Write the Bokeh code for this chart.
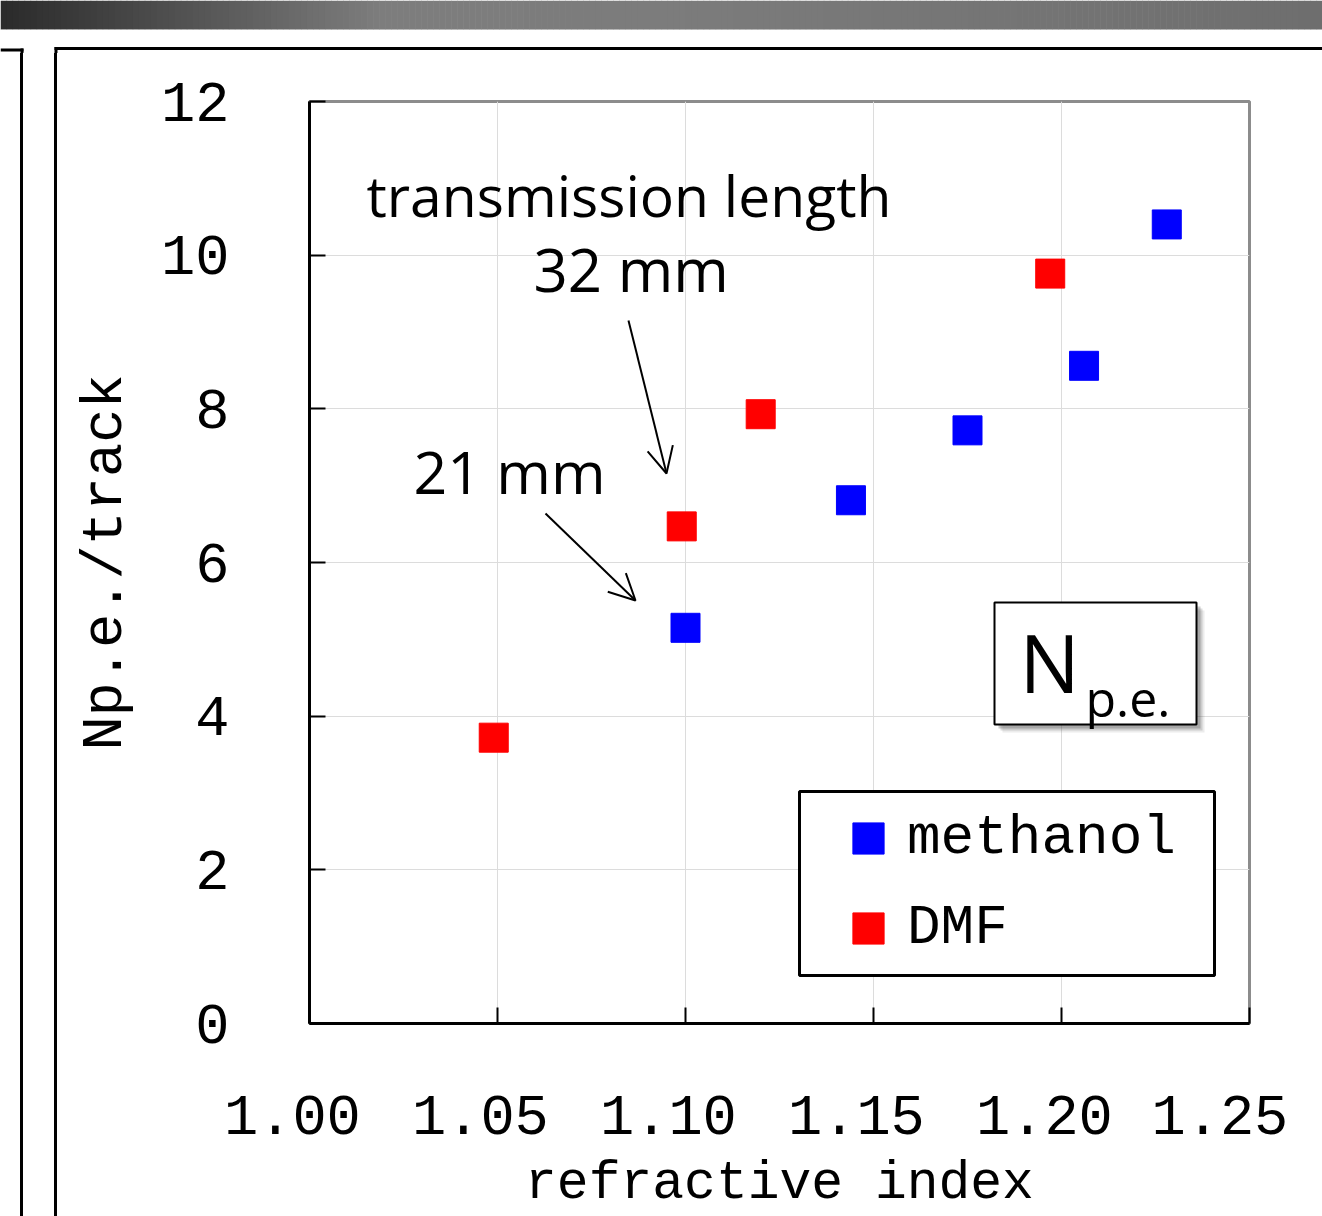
from bokeh.plotting import figure
from bokeh.layouts import column, row
from bokeh.models import (Range1d, FixedTicker, CustomJSTickFormatter, Label, Arrow, OpenHead,
                          BoxAnnotation, Legend, LegendItem, Div)
from bokeh.embed import file_html
from bokeh.resources import INLINE

# ---- data ----
methanol_n = [1.100, 1.144, 1.175, 1.206, 1.228]
methanol_npe = [5.15, 6.81, 7.72, 8.56, 10.40]
dmf_n = [1.049, 1.099, 1.120, 1.197]
dmf_npe = [3.72, 6.47, 7.93, 9.76]
x_ticks = [1.00, 1.05, 1.10, 1.15, 1.20, 1.25]
y_ticks = [0, 2, 4, 6, 8, 10, 12]

W, H = 1322, 1216
BAR_H, STRIP_H, LEFT_W = 30, 23, 60          # slide decoration pieces around the chart
TOP = BAR_H + STRIP_H                          # main figure origin on the page
FL, FR, FT, FB = 309, 1249, 101, 1023          # frame edges on the page
XMIN, XMAX, YMIN, YMAX = 1.00, 1.25, 0, 12


def dx(px):
    return XMIN + (px - FL) * (XMAX - XMIN) / (FR - FL)


def dy(py):
    return YMIN + (FB - py) * (YMAX - YMIN) / (FB - FT)


def deco_fig(w, h):
    f = figure(width=w, height=h, x_range=Range1d(0, w), y_range=Range1d(h, 0),
               output_backend="svg", toolbar_location=None,
               x_axis_location=None, y_axis_location=None, min_border=0)
    f.outline_line_color = None
    f.grid.visible = False
    f.background_fill_color = "white"
    f.border_fill_color = "white"
    return f


# ---- slide title bar (grey gradient) ----
bar = deco_fig(W, BAR_H)
stops = [(0, (42, 42, 42)), (380, (125, 125, 125)), (660, (124, 124, 124)), (W, (110, 110, 110))]
nseg = 220
lefts, rights, cols = [], [], []
for i in range(nseg):
    x0 = W * i / nseg
    x1 = W * (i + 1) / nseg
    xm = (x0 + x1) / 2
    c = stops[-1][1]
    for (a, ca), (b, cb) in zip(stops[:-1], stops[1:]):
        if a <= xm <= b:
            t = (xm - a) / (b - a)
            c = tuple(int(round(ca[k] + (cb[k] - ca[k]) * t)) for k in range(3))
            break
    lefts.append(x0)
    rights.append(x1 + 0.6)
    cols.append("#%02x%02x%02x" % c)
bar.quad(left=lefts, right=rights, top=[0] * nseg, bottom=[29] * nseg, color=cols, line_alpha=0)
bar.quad(left=[0], right=[W], top=[29], bottom=[30], color="#b4b4b4", line_alpha=0)

# ---- strip with the top edges of the slide boxes ----
strip = deco_fig(W, STRIP_H)
strip.quad(left=[0, 20, 54, 54], right=[23, 23, W, 57],
           top=[18, 18, 16.5, 16.5], bottom=[21, STRIP_H, 19.5, STRIP_H],
           color="black", line_alpha=0)

# ---- left strip with the vertical edges of the slide boxes ----
left = Div(width=LEFT_W, height=H - TOP, margin=0,
           text=('<div style="box-sizing:border-box;margin:0 0 0 20px;padding:0;width:37px;height:%dpx;'
                 'border-left:3px solid #000;border-right:3px solid #000;"></div>') % (H - TOP))

# ---- main chart ----
p = figure(width=W - LEFT_W, height=H - TOP, output_backend="svg", toolbar_location=None,
           x_range=Range1d(XMIN, XMAX), y_range=Range1d(YMIN, YMAX),
           min_border_left=FL - LEFT_W, min_border_right=W - FR,
           min_border_top=FT - TOP, min_border_bottom=H - FB)
p.background_fill_color = "white"
p.border_fill_color = "white"
p.outline_line_color = "#8c8c8c"
p.outline_line_width = 3

MONO = "Liberation Mono"
SANS = "Open Sans"

for ax in (p.xaxis[0], p.yaxis[0]):
    ax.axis_line_width = 3
    ax.axis_line_color = "black"
    ax.major_tick_line_width = 2
    ax.major_tick_line_color = "black"
    ax.major_tick_in = 16
    ax.major_tick_out = 0
    ax.minor_tick_in = 0
    ax.minor_tick_out = 0
    ax.major_label_text_font = MONO
    ax.major_label_text_font_size = "57px"
    ax.major_label_text_color = "black"
    ax.axis_label_text_font = MONO
    ax.axis_label_text_font_style = "normal"
    ax.axis_label_text_color = "black"

p.xaxis.ticker = FixedTicker(ticks=x_ticks)
# the reference's tick labels sit a little left of their ticks (trailing blank)
p.xaxis.formatter = CustomJSTickFormatter(code="return tick.toFixed(2) + '\\u00a0';")
p.xaxis.major_label_standoff = 63
p.xaxis.axis_label = "refractive index"
p.xaxis.axis_label_text_font_size = "53px"
p.xaxis.axis_label_standoff = 0

p.yaxis.ticker = FixedTicker(ticks=y_ticks)
p.yaxis.major_label_standoff = 80
p.yaxis.axis_label = "Np.e./track"
p.yaxis.axis_label_text_font_size = "57px"
p.yaxis.axis_label_standoff = 20

p.xgrid.ticker = FixedTicker(ticks=x_ticks)
p.ygrid.ticker = FixedTicker(ticks=y_ticks)
for g in (p.xgrid[0], p.ygrid[0]):
    g.grid_line_color = "#dcdcdc"
    g.grid_line_width = 1

# ---- data points ----
r_meth = p.scatter(methanol_n, methanol_npe, marker="square", size=29, fill_color="#0000ff", line_color="#0000ff")
r_dmf = p.scatter(dmf_n, dmf_npe, marker="square", size=29, fill_color="#ff0000", line_color="#ff0000")

# ---- annotations ----
p.add_layout(Label(x=dx(366), y=dy(194), text="transmission length", text_font=SANS,
                   text_font_size="57px", text_color="black", text_baseline="alphabetic"))
p.add_layout(Label(x=dx(533), y=dy(268), text="32 mm", text_font=SANS,
                   text_font_size="60px", text_color="black", text_baseline="alphabetic"))
p.add_layout(Label(x=dx(413), y=dy(470), text="21 mm", text_font=SANS,
                   text_font_size="59px", text_color="black", text_baseline="alphabetic"))
p.add_layout(Arrow(x_start=dx(628), y_start=dy(320), x_end=dx(666), y_end=dy(473), line_width=2,
                   end=OpenHead(size=26, line_width=2, line_color="black")))
p.add_layout(Arrow(x_start=dx(545), y_start=dy(513), x_end=dx(635), y_end=dy(600), line_width=2,
                   end=OpenHead(size=26, line_width=2, line_color="black")))

# N_p.e. box with soft shadow
for off, alpha in [(8, 0.10), (6, 0.18), (4, 0.28)]:
    p.add_layout(BoxAnnotation(left=dx(994 + off), right=dx(1196 + off), top=dy(602 + off), bottom=dy(724 + off),
                               fill_color="#444444", fill_alpha=alpha, line_alpha=0))
p.add_layout(BoxAnnotation(left=dx(994), right=dx(1196), top=dy(602), bottom=dy(724),
                           fill_color="white", fill_alpha=1, line_color="black", line_alpha=1, line_width=2))
p.add_layout(Label(x=dx(1019), y=dy(661), text="N", text_font=SANS, text_font_size="80px",
                   text_color="black", text_baseline="alphabetic"))
p.add_layout(Label(x=dx(1085), y=dy(697), text="p.e.", text_font=SANS, text_font_size="50px",
                   text_color="black", text_baseline="alphabetic"))

# legend frame
p.add_layout(BoxAnnotation(left=dx(799), right=dx(1214), top=dy(791), bottom=dy(975),
                           fill_color="white", fill_alpha=1, line_color="black", line_alpha=1, line_width=3))

legend = Legend(items=[LegendItem(label="methanol", renderers=[r_meth]),
                       LegendItem(label="DMF", renderers=[r_dmf])],
                location=(520, 56), padding=0, spacing=12, margin=0,
                glyph_width=78, glyph_height=78, label_standoff=-3,
                label_text_font=MONO, label_text_font_size="56px", label_text_color="black",
                border_line_alpha=0, background_fill_alpha=0)
p.add_layout(legend, "center")

page = column(bar, strip, row(left, p, spacing=0), spacing=0)
open("out.html", "w").write(file_html(page, INLINE))
